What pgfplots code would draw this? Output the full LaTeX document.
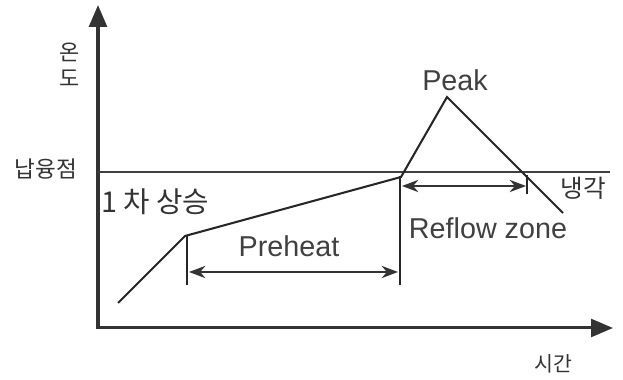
\documentclass[border=0pt]{standalone}
\usepackage{pgfplots}
\pgfplotsset{compat=1.18}
\usetikzlibrary{arrows.meta}
\usepackage{fontspec}
\setmainfont{Liberation Sans}
\newfontfamily\kr{Noto Sans CJK KR}
\begin{document}
\begin{tikzpicture}
\begin{axis}[
  width=16cm, height=9.759cm, scale only axis,
  xmin=0, xmax=623, ymin=0, ymax=380,
  hide axis, clip=false,
]
% invisible frame to fix the bounding box
\addplot[draw=none] coordinates {(0,0) (623,380)};
% axes
\addplot[black!80, line width=2.2pt, -{Triangle[length=16pt,width=13pt]}] coordinates {(98,51) (98,375)};
\addplot[black!80, line width=2.2pt, -{Triangle[length=16pt,width=13pt]}] coordinates {(97,52) (613,52)};
% melting point line
\addplot[black!75, line width=1pt] coordinates {(98,208) (610,208)};
% profile
\addplot[black!85, line width=1.5pt] coordinates {(118,77) (185,144) (401,203) (447,283) (563,167)};
% vertical markers
\addplot[black!85, line width=1.1pt] coordinates {(187,144) (187,95)};
\addplot[black!85, line width=1.1pt] coordinates {(400,204) (400,95)};
\addplot[black!85, line width=1.1pt] coordinates {(527,205) (527,186)};
% preheat arrow
\addplot[black!80, line width=1.1pt, {Stealth[length=12pt,width=9pt]}-{Stealth[length=12pt,width=9pt]}] coordinates {(189,108) (398,108)};
% reflow arrow
\addplot[black!80, line width=1.1pt, {Stealth[length=12pt,width=9pt]}-{Stealth[length=12pt,width=9pt]}] coordinates {(402,194) (526,194)};
% labels
\node[font=\kr\fontsize{16}{16}\selectfont, black!80] at (axis cs:70,328) {온};
\node[font=\kr\fontsize{16}{16}\selectfont, black!80] at (axis cs:70,302) {도};
\node[font=\kr\fontsize{16.5}{16.5}\selectfont, black!80] at (axis cs:46,211) {납융점};
\node[font=\kr\fontsize{21}{21}\selectfont, black!80, anchor=west, inner sep=0pt] at (axis cs:101,178) {1 차 상승};
\node[font=\fontsize{21}{21}\selectfont, black!75] at (axis cs:289,134) {Preheat};
\node[font=\fontsize{21}{21}\selectfont, black!75] at (axis cs:455,300) {Peak};
\node[font=\fontsize{21}{21}\selectfont, black!75] at (axis cs:488,152) {Reflow zone};
\node[font=\kr\fontsize{18}{18}\selectfont, black!80] at (axis cs:583,192) {냉각};
\node[font=\kr\fontsize{15}{15}\selectfont, black!80] at (axis cs:553,16) {시간};
\end{axis}
\end{tikzpicture}
\end{document}
